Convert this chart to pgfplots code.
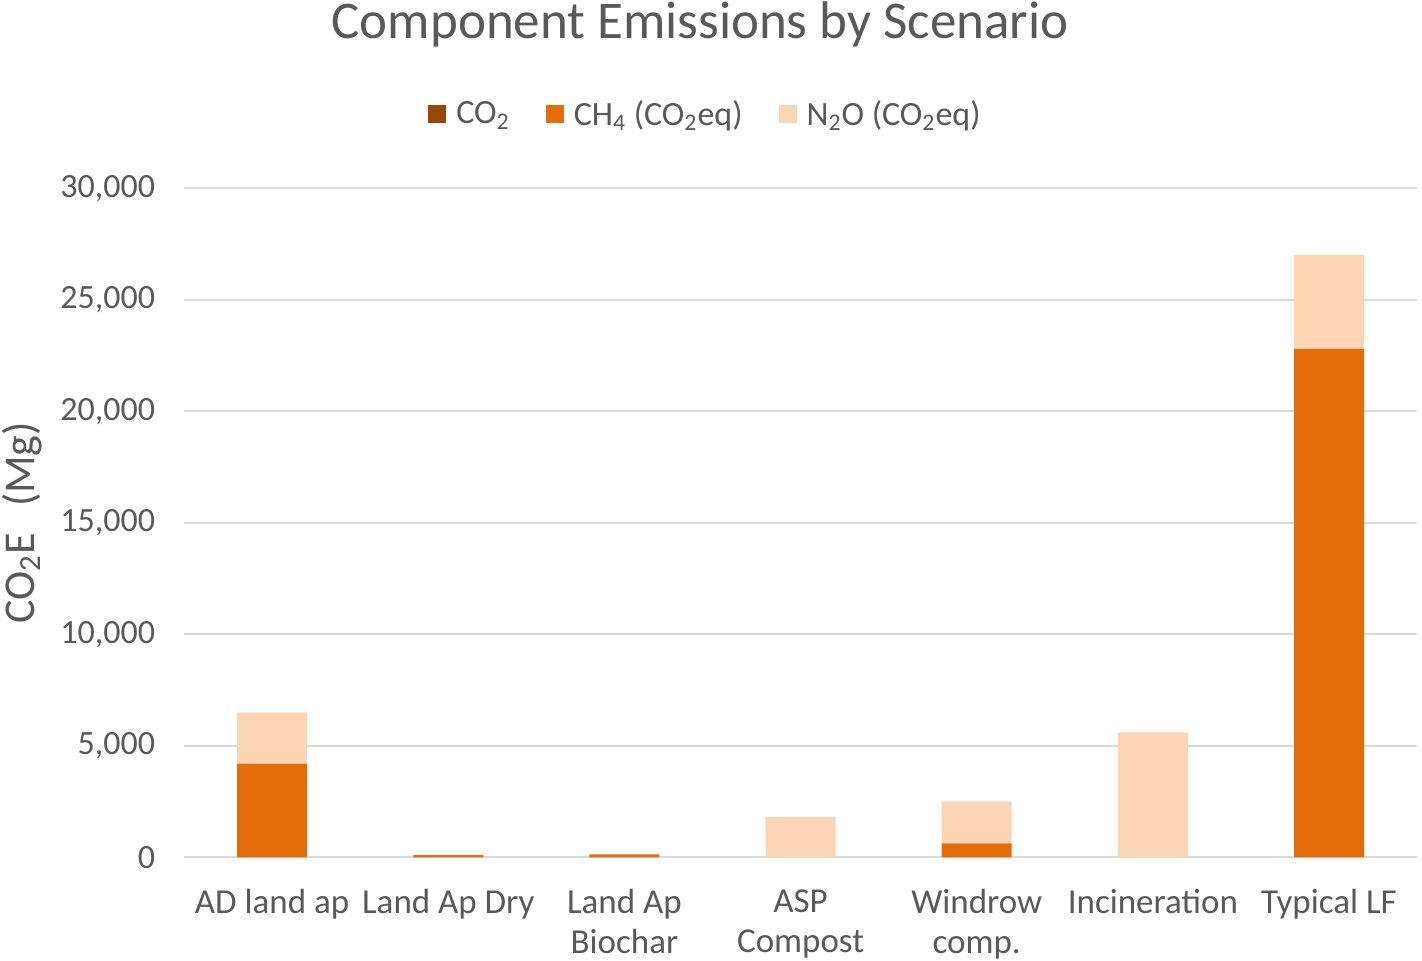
\documentclass[border=0pt]{standalone}
\usepackage{pgfplots}
\pgfplotsset{compat=1.18}
\usepackage{fontspec}
\setmainfont{Carlito}
\definecolor{txt}{HTML}{595959}
\definecolor{cco}{HTML}{974706}
\definecolor{cch}{HTML}{E46C0A}
\definecolor{cno}{HTML}{FCD5B5}
\definecolor{gridc}{HTML}{D9D9D9}
\begin{document}
\begin{tikzpicture}[x=1pt,y=1pt]
\begin{axis}[
  at={(104.5,46.5)}, anchor=south west,
  scale only axis, width=616.5pt, height=334.5pt,
  ybar stacked, bar width=35pt,
  xmin=-0.5, xmax=6.5, ymin=0, ymax=30000,
  xtick={0,...,6},
  xticklabels={AD land ap,Land Ap Dry,{Land Ap\\Biochar},{ASP\\Compost},{Windrow\\comp.},Incineration,Typical LF},
  xticklabel style={align=center, font=\fontsize{17.5}{20}\selectfont, text=txt, yshift=-12.5pt},
  ytick={0,5000,...,30000},
  scaled y ticks=false,
  yticklabel style={font=\fontsize{17}{20}\selectfont, text=txt, xshift=-11pt},
  /pgf/number format/assume math mode=true,
  /pgf/number format/1000 sep={,},
  ymajorgrids, xmajorgrids=false, grid style={gridc, line width=1pt},
  major tick length=0pt,
  axis line style={draw=none},
  tick style={draw=none},
  ylabel={CO\textsubscript{2}E\hspace{0.6em}(Mg)},
  ylabel style={font=\fontsize{22}{24}\selectfont, text=txt, at={(axis description cs:-0.1312,0.5)}, anchor=center, rotate=0},
  title={Component Emissions by Scenario},
  title style={font=\fontsize{26.5}{30}\selectfont, text=txt, at={(axis description cs:0.4185,1)}, yshift=76pt, anchor=center},
  legend style={at={(axis description cs:0.4237,1)}, anchor=center, yshift=37pt, draw=none, fill=none, font=\fontsize{17}{20}\selectfont, text=txt, legend columns=3,
    /tikz/every odd column/.append style={column sep=3pt},
    /tikz/every even column/.append style={column sep=16pt}},
  legend image code/.code={\fill[#1] (0pt,-4.5pt) rectangle (9pt,4.5pt);},
]
\addplot[fill=cco, draw=none] coordinates {(0,0) (1,0) (2,0) (3,0) (4,0) (5,0) (6,0)};
\addplot[fill=cch, draw=none] coordinates {(0,4200) (1,100) (2,130) (3,0) (4,630) (5,0) (6,22800)};
\addplot[fill=cno, draw=none] coordinates {(0,2300) (1,0) (2,0) (3,1800) (4,1880) (5,5600) (6,4200)};
\legend{CO\textsubscript{2},CH\textsubscript{4} (CO\textsubscript{2}eq),N\textsubscript{2}O (CO\textsubscript{2}eq)}
\end{axis}
\pgfresetboundingbox
\path[use as bounding box] (0,0) rectangle (711,480.5);
\end{tikzpicture}
\end{document}
